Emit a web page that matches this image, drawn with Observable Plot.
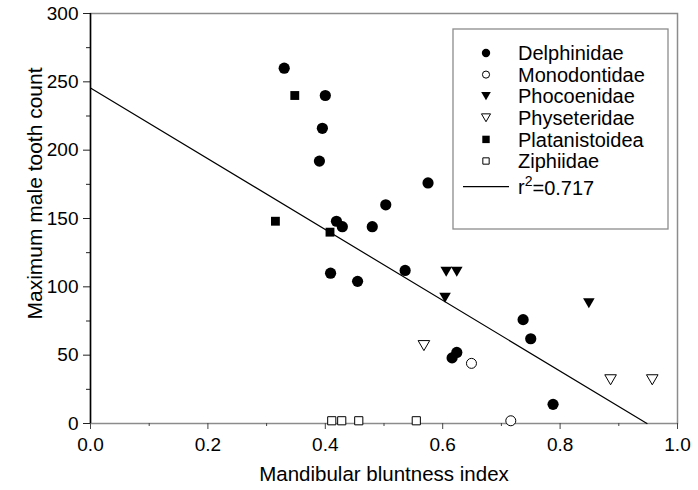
<!DOCTYPE html>
<html>
<head>
<meta charset="utf-8">
<script src="https://cdn.jsdelivr.net/npm/d3@7"></script>
<script src="https://cdn.jsdelivr.net/npm/@observablehq/plot@0.6"></script>
<style>
  html, body { margin: 0; padding: 0; background: white; }
  #chart { width: 698px; height: 490px; }
</style>
</head>
<body>
<div id="chart"></div>
<script>
// ---------- data ----------
const families = ["Delphinidae", "Monodontidae", "Phocoenidae", "Physeteridae", "Platanistoidea", "Ziphiidae"];

const delphX = [0.33, 0.40, 0.395, 0.39, 0.575, 0.503, 0.419, 0.429, 0.48, 0.409, 0.455, 0.536, 0.737, 0.75, 0.616, 0.624, 0.788];
const delphY = [260, 240, 216, 192, 176, 160, 148, 144, 144, 110, 104, 112, 76, 62, 48, 52, 14];

const monoX = [0.649, 0.716];
const monoY = [44, 2];

const phocX = [0.606, 0.624, 0.604, 0.849];
const phocY = [111, 111, 92, 88];

const physX = [0.568, 0.886, 0.957];
const physY = [57, 32, 32];

const platX = [0.348, 0.315, 0.408];
const platY = [240, 148, 140];

const ziphX = [0.411, 0.428, 0.457, 0.555];
const ziphY = [2, 2, 2, 2];

// regression line end points
const fitX = [0, 0.948];
const fitY = [245.5, 0];
const fitLabel = "=0.717";

const xMajor = [0, 0.2, 0.4, 0.6, 0.8, 1.0];
const xMinor = [0.1, 0.3, 0.5, 0.7, 0.9];
const yMajor = [0, 50, 100, 150, 200, 250, 300];
const yMinor = [25, 75, 125, 175, 225, 275];

const xTitle = "Mandibular bluntness index";
const yTitle = "Maximum male tooth count";

// ---------- helpers ----------
const pts = (xs, ys) => xs.map((x, i) => ({x, y: ys[i]}));
const triDown = {
  draw(ctx, size) {
    const s = Math.sqrt(size * 4 / Math.sqrt(3));
    const h = s * Math.sqrt(3) / 2;
    ctx.moveTo(-s / 2, -h / 2);
    ctx.lineTo(s / 2, -h / 2);
    ctx.lineTo(0, h / 2);
    ctx.closePath();
  }
};

const FONT = "'Liberation Sans', Arial, Helvetica, sans-serif";

const chart = Plot.plot({
  width: 698,
  height: 490,
  marginLeft: 90,
  marginRight: 21,
  marginTop: 13,
  marginBottom: 67,
  x: {domain: [0, 1]},
  y: {domain: [0, 300]},
  style: {fontFamily: FONT, fontSize: "19px", color: "black", background: "white", overflow: "visible"},
  marks: [
    Plot.frame({stroke: "#8c8c8c", strokeWidth: 1.5}),
    Plot.axisX({ticks: xMajor, tickSize: 6, tickPadding: 8, tickFormat: d3.format(".1f"), label: null, stroke: "#444"}),
    Plot.axisX({ticks: xMinor, tickSize: 3, tickFormat: () => "", label: null, stroke: "#444"}),
    Plot.axisY({ticks: yMajor, tickSize: 7, tickPadding: 5, label: null, stroke: "#222"}),
    Plot.axisY({ticks: yMinor, tickSize: 4, tickFormat: () => "", label: null, stroke: "#222"}),
    Plot.ruleX([0], {stroke: "black", strokeWidth: 1.5}),
    Plot.line(pts(fitX, fitY), {x: "x", y: "y", stroke: "black", strokeWidth: 1.2}),
    Plot.dot(pts(delphX, delphY), {x: "x", y: "y", r: 5.6, symbol: "circle", fill: "black", stroke: "none"}),
    Plot.dot(pts(monoX, monoY), {x: "x", y: "y", r: 5, symbol: "circle", fill: "white", stroke: "black", strokeWidth: 1}),
    Plot.dot(pts(phocX, phocY), {x: "x", y: "y", r: 4.3, symbol: triDown, fill: "black", stroke: "none"}),
    Plot.dot(pts(physX, physY), {x: "x", y: "y", r: 4.3, symbol: triDown, fill: "white", stroke: "black", strokeWidth: 1}),
    Plot.dot(pts(platX, platY), {x: "x", y: "y", r: 5, symbol: "square", fill: "black", stroke: "none"}),
    Plot.dot(pts(ziphX, ziphY), {x: "x", y: "y", r: 4.6, symbol: "square", fill: "white", stroke: "black", strokeWidth: 1}),
    Plot.text([xTitle], {frameAnchor: "bottom", dy: 57, fontSize: 20.5, textAnchor: "middle"}),
    Plot.text([yTitle], {frameAnchor: "left", rotate: -90, dx: -55, dy: -25, fontSize: 21, textAnchor: "middle"})
  ]
});

document.getElementById("chart").appendChild(chart);

// ---------- legend (inside plot area) ----------
const svg = d3.select(chart);
const lg = svg.append("g").attr("font-family", FONT).attr("font-size", 20).attr("text-anchor", "start");
const box = {x: 453, y: 29, w: 215, h: 200};
lg.append("rect").attr("x", box.x).attr("y", box.y).attr("width", box.w).attr("height", box.h)
  .attr("fill", "white").attr("stroke", "#8c8c8c").attr("stroke-width", 1.3);

const legendStyles = [
  {sym: d3.symbolCircle, size: 55, fill: "black", stroke: "none"},
  {sym: d3.symbolCircle, size: 40, fill: "white", stroke: "black"},
  {sym: triDown, size: 40, fill: "black", stroke: "none"},
  {sym: triDown, size: 36, fill: "white", stroke: "black"},
  {sym: d3.symbolSquare, size: 55, fill: "black", stroke: "none"},
  {sym: d3.symbolSquare, size: 40, fill: "white", stroke: "black"}
];
const rowY0 = 53, rowDy = 21.6;
families.forEach((name, i) => {
  const y = rowY0 + i * rowDy;
  const st = legendStyles[i];
  lg.append("path").attr("d", d3.symbol(st.sym, st.size)())
    .attr("transform", `translate(486,${y})`)
    .attr("fill", st.fill).attr("stroke", st.stroke).attr("stroke-width", 1);
  lg.append("text").attr("x", 518).attr("y", y).attr("dy", "0.36em").attr("text-anchor", "start").text(name);
});
const ry = rowY0 + 6 * rowDy + 4;
lg.append("line").attr("x1", 463).attr("x2", 509).attr("y1", ry).attr("y2", ry).attr("stroke", "black").attr("stroke-width", 1.2);
const rt = lg.append("text").attr("x", 518).attr("y", ry).attr("dy", "0.36em").attr("text-anchor", "start");
rt.append("tspan").text("r");
rt.append("tspan").attr("font-size", 14).attr("dy", "-0.55em").text("2");
rt.append("tspan").attr("dy", "0.42em").text(fitLabel);
</script>
</body>
</html>
